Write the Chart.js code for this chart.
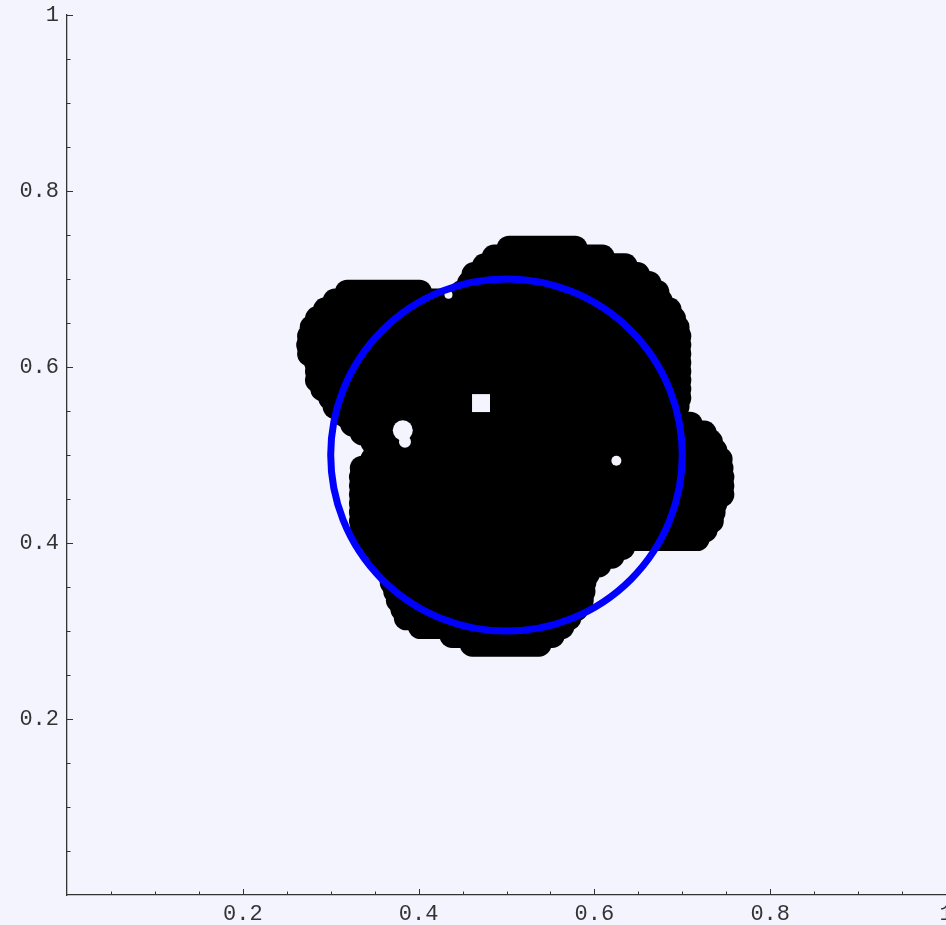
<!DOCTYPE html>
<html>
<head>
<meta charset="utf-8">
<script src="https://cdn.jsdelivr.net/npm/chart.js@4.4.1/dist/chart.umd.min.js"></script>
<style>
  html, body { margin: 0; padding: 0; background: #f3f4fe; }
  #plot { display: block; }
</style>
</head>
<body>
<canvas id="plot" width="946" height="925"></canvas>
<script>
// blob, read row by row: y of the row and where its run of points starts / ends
const rowY = [0.735, 0.725, 0.715, 0.705, 0.695, 0.685, 0.685, 0.675, 0.665, 0.655,
              0.645, 0.635, 0.625, 0.615, 0.605, 0.595, 0.585, 0.575, 0.565, 0.555,
              0.545, 0.535, 0.525, 0.515, 0.505, 0.495, 0.485, 0.475, 0.465, 0.455,
              0.445, 0.435, 0.425, 0.415, 0.405, 0.395, 0.385, 0.375, 0.365, 0.355,
              0.345, 0.335, 0.325, 0.315, 0.305, 0.295, 0.285];
const rowStart = [0.503, 0.486, 0.475, 0.463, 0.458, 0.319, 0.450, 0.305, 0.294, 0.285,
                  0.279, 0.276, 0.275, 0.276, 0.284, 0.285, 0.285, 0.291, 0.300, 0.305,
                  0.317, 0.325, 0.336, 0.348, 0.352, 0.348, 0.336, 0.335, 0.335, 0.335,
                  0.335, 0.335, 0.335, 0.336, 0.343, 0.350, 0.357, 0.363, 0.367, 0.370,
                  0.374, 0.377, 0.382, 0.386, 0.402, 0.438, 0.461];
const rowEnd = [0.578, 0.609, 0.635, 0.649, 0.662, 0.401, 0.671, 0.675, 0.685, 0.690,
                0.694, 0.696, 0.696, 0.696, 0.696, 0.696, 0.696, 0.696, 0.696, 0.694,
                0.692, 0.709, 0.725, 0.732, 0.737, 0.743, 0.744, 0.745, 0.745, 0.745,
                0.737, 0.735, 0.733, 0.726, 0.717, 0.632, 0.620, 0.605, 0.592, 0.588,
                0.587, 0.585, 0.579, 0.571, 0.563, 0.552, 0.537];

// empty spots left inside the blob
const holeX = [0.625, 0.471, 0.382, 0.3845, 0.434];
const holeY = [0.4935, 0.559, 0.528, 0.515, 0.682];

// blue circle
const circleCenter = [0.5, 0.5];
const circleRadius = 0.2;

// axis tick labels
const tickValues = [0.2, 0.4, 0.6, 0.8, 1];
const tickLabels = ['0.2', '0.4', '0.6', '0.8', '1'];

const bg = '#f3f4fe';
const axisColor = '#333';
const tickFont = { family: 'Liberation Mono', size: 22 };

function labelFor(v) {
    const k = tickValues.findIndex(m => Math.abs(m - v) < 1e-6);
    return k < 0 ? '' : tickLabels[k];
}

const datasets = [{
    data: holeX.map((x, i) => ({ x: x, y: holeY[i] })),
    showLine: false,
    pointRadius: [5, 12.7, 10, 6, 4],
    pointStyle: ['circle', 'rect', 'circle', 'circle', 'circle'],
    pointBackgroundColor: bg,
    pointBorderWidth: 0
}];

rowY.forEach((y, i) => {
    datasets.push({
        data: [{ x: rowStart[i], y: y }, { x: rowEnd[i], y: y }],
        showLine: true,
        borderColor: '#000',
        borderWidth: 25,
        borderCapStyle: 'round',
        pointRadius: 0
    });
});

// circle on top of the points, ticks pointing into the plot, x labels
const extras = {
    id: 'extras',
    afterDatasetsDraw(chart) {
        const { ctx, scales: { x, y } } = chart;
        const cx = x.getPixelForValue(circleCenter[0]);
        const cy = y.getPixelForValue(circleCenter[1]);
        const rx = x.getPixelForValue(circleCenter[0] + circleRadius) - cx;
        const ry = cy - y.getPixelForValue(circleCenter[1] + circleRadius);
        ctx.save();
        ctx.strokeStyle = '#0000ff';
        ctx.lineWidth = 7;
        ctx.beginPath();
        ctx.ellipse(cx, cy, rx, ry, 0, 0, 2 * Math.PI);
        ctx.stroke();
        ctx.restore();
    },
    afterDraw(chart) {
        const { ctx, chartArea: area, scales: { x, y } } = chart;
        ctx.save();
        ctx.strokeStyle = axisColor;
        ctx.lineWidth = 1;
        ctx.beginPath();
        x.ticks.forEach(t => {
            if (t.value <= 0) return;
            const len = labelFor(t.value) ? 6 : 3.5;
            const px = Math.round(x.getPixelForValue(t.value)) + 0.5;
            ctx.moveTo(px, area.bottom);
            ctx.lineTo(px, area.bottom - len);
        });
        y.ticks.forEach(t => {
            if (t.value <= 0) return;
            const len = labelFor(t.value) ? 6 : 3.5;
            const py = Math.round(y.getPixelForValue(t.value)) + 0.5;
            ctx.moveTo(area.left, py);
            ctx.lineTo(area.left + len, py);
        });
        ctx.stroke();

        ctx.fillStyle = axisColor;
        ctx.font = tickFont.size + 'px "' + tickFont.family + '"';
        ctx.textAlign = 'center';
        ctx.textBaseline = 'middle';
        tickValues.forEach((v, i) => {
            ctx.fillText(tickLabels[i], x.getPixelForValue(v), area.bottom + 19);
        });
        ctx.restore();
    }
};

new Chart(document.getElementById('plot'), {
    type: 'scatter',
    data: { datasets: datasets },
    options: {
        responsive: false,
        animation: false,
        events: [],
        layout: { autoPadding: false, padding: { top: 15, left: 0, right: 0, bottom: 0 } },
        plugins: { legend: { display: false }, tooltip: { enabled: false } },
        scales: {
            x: {
                type: 'linear',
                min: 0,
                max: 1,
                grid: { display: false, drawTicks: false },
                border: { display: true, color: axisColor, width: 1.3 },
                ticks: { stepSize: 0.05, autoSkip: false, display: false },
                afterFit(scale) {
                    scale.height = 30;
                    scale.paddingLeft = 0;
                    scale.paddingRight = 0;
                }
            },
            y: {
                type: 'linear',
                min: 0,
                max: 1,
                grid: { display: false, drawTicks: false },
                border: { display: true, color: axisColor, width: 1.3 },
                ticks: {
                    stepSize: 0.05,
                    autoSkip: false,
                    padding: 8,
                    color: axisColor,
                    font: tickFont,
                    callback: labelFor
                },
                afterFit(scale) {
                    scale.width = 67;
                    scale.paddingTop = 0;
                    scale.paddingBottom = 0;
                }
            }
        }
    },
    plugins: [extras]
});
</script>
</body>
</html>
